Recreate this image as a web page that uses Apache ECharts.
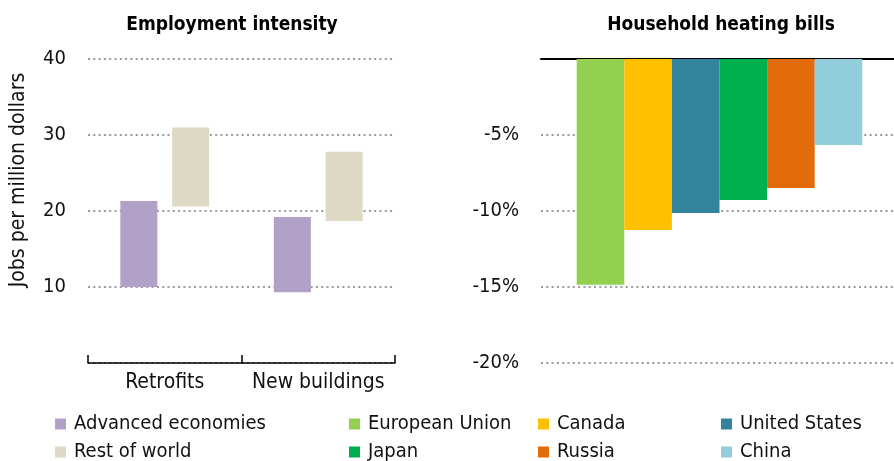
<!DOCTYPE html>
<html><head><meta charset="utf-8">
<script src="https://cdn.jsdelivr.net/npm/echarts@6/dist/echarts.min.js"></script>
<style>html,body{margin:0;padding:0;background:#fff}#c{width:894px;height:461px}</style>
</head><body><div id="c"></div>
<script>
const categories = ['Retrofits', 'New buildings'];
const advLow = [10, 9.3];
const advHigh = [21.3, 19.2];
const rowLow = [20.6, 18.7];
const rowHigh = [31.0, 27.8];
const regions = ['European Union', 'Canada', 'United States', 'Japan', 'Russia', 'China'];
const billChange = [-14.85, -11.25, -10.13, -9.28, -8.49, -5.66];
const regionColors = ['#92d050', '#ffc000', '#31849b', '#00b050', '#e36c0a', '#92cddc'];
const leftTicks = [0, 40, 10];
const rightTicks = [-20, 0, 5];

const FONT = '"DejaVu Sans Condensed", "Liberation Sans", sans-serif';
const chart = echarts.init(document.getElementById('c'));
const gridStyle = { color: '#9a9a9a', width: 2, type: [2, 3.3] };

const series = [
  { type: 'bar', name: 'advBase', xAxisIndex: 0, yAxisIndex: 0, stack: 'a', data: advLow,
    itemStyle: { color: 'transparent' }, barWidth: 37, barGap: '40%', silent: true },
  { type: 'bar', name: 'Advanced economies', xAxisIndex: 0, yAxisIndex: 0, stack: 'a',
    data: advHigh.map((v, i) => +(v - advLow[i]).toFixed(2)), itemStyle: { color: '#b1a0c7' }, barWidth: 37 },
  { type: 'bar', name: 'rowBase', xAxisIndex: 0, yAxisIndex: 0, stack: 'b', data: rowLow,
    itemStyle: { color: 'transparent' }, barWidth: 37, silent: true },
  { type: 'bar', name: 'Rest of world', xAxisIndex: 0, yAxisIndex: 0, stack: 'b',
    data: rowHigh.map((v, i) => +(v - rowLow[i]).toFixed(2)), itemStyle: { color: '#ddd9c4' }, barWidth: 37 }
];
regions.forEach((r, i) => {
  series.push({ type: 'bar', name: r, xAxisIndex: 1, yAxisIndex: 1, data: [billChange[i]],
    itemStyle: { color: regionColors[i] }, barWidth: 47.6, barGap: '0%' });
});

function leg(name, left, top) {
  return {
    orient: 'horizontal', itemWidth: 11, itemHeight: 11, itemGap: 0,
    textStyle: { fontFamily: FONT, fontSize: 20, color: '#111', padding: [0, 0, 0, 3] },
    icon: 'rect', padding: 0, left: left, top: top, data: [name]
  };
}
const r1 = 414, r2 = 442;

chart.setOption({
  animation: false,
  textStyle: { fontFamily: FONT },
  title: [
    { text: 'Employment intensity', left: 227, top: 11, textAlign: 'center',
      textStyle: { fontFamily: FONT, fontSize: 19, fontWeight: 'bold', color: '#000' } },
    { text: 'Household heating bills', left: 716, top: 11, textAlign: 'center',
      textStyle: { fontFamily: FONT, fontSize: 19, fontWeight: 'bold', color: '#000' } }
  ],
  graphic: [
    { type: 'text', x: 19, y: 180, rotation: Math.PI / 2,
      style: { text: 'Jobs per million dollars', fontFamily: FONT, fontSize: 21, fill: '#111',
        align: 'center', verticalAlign: 'middle' } }
  ],
  legend: [
    leg('Advanced economies', 55, r1), leg('Rest of world', 55, r2),
    leg('European Union', 349, r1), leg('Japan', 349, r2),
    leg('Canada', 538, r1), leg('Russia', 538, r2),
    leg('United States', 721, r1), leg('China', 721, r2)
  ],
  grid: [
    { left: 88, top: 59, width: 307, height: 304, outerBoundsMode: 'none' },
    { left: 541, top: 59, width: 357, height: 304, outerBoundsMode: 'none' }
  ],
  xAxis: [
    { type: 'category', gridIndex: 0, data: categories,
      axisLine: { lineStyle: { color: '#000', width: 1.5 } },
      axisTick: { show: true, inside: true, length: 8, lineStyle: { color: '#000', width: 1.5 } },
      axisLabel: { fontFamily: FONT, fontSize: 21, color: '#111', margin: 9, interval: 0 } },
    { type: 'category', gridIndex: 1, data: ['x'], position: 'top',
      axisLine: { onZero: false, lineStyle: { color: '#000', width: 2 } },
      axisTick: { show: false }, axisLabel: { show: false } }
  ],
  yAxis: [
    { type: 'value', gridIndex: 0, min: leftTicks[0], max: leftTicks[1], interval: leftTicks[2],
      axisLine: { show: false }, axisTick: { show: false },
      axisLabel: { fontFamily: FONT, fontSize: 20, color: '#111', margin: 22,
        formatter: v => v === 0 ? '' : String(v) },
      splitLine: { lineStyle: gridStyle } },
    { type: 'value', gridIndex: 1, min: rightTicks[0], max: rightTicks[1], interval: rightTicks[2],
      axisLine: { show: false }, axisTick: { show: false },
      axisLabel: { fontFamily: FONT, fontSize: 20, color: '#111', margin: 22,
        formatter: v => v === 0 ? '' : v + '%' },
      splitLine: { lineStyle: gridStyle } }
  ],
  series: series
});
</script></body></html>
